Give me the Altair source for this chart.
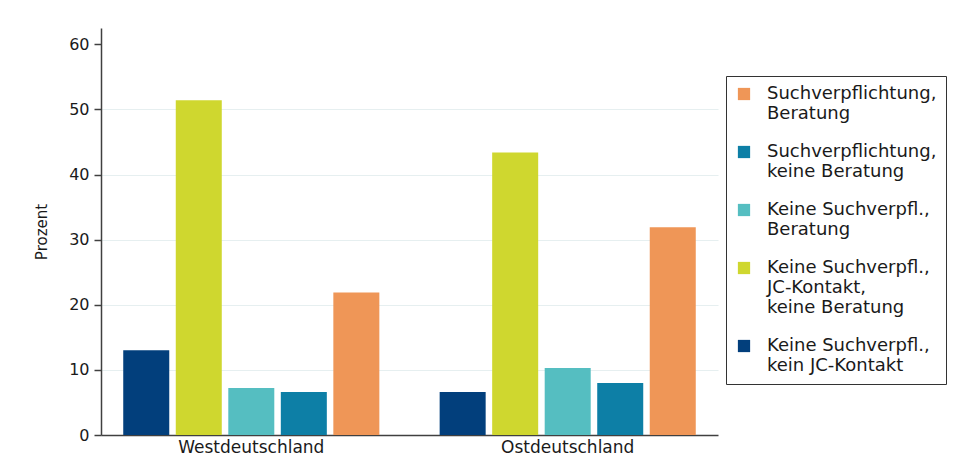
import altair as alt
import pandas as pd

regions = ["Westdeutschland", "Ostdeutschland"]
categories = [
    "Keine Suchverpfl.,\nkein JC-Kontakt",
    "Keine Suchverpfl.,\nJC-Kontakt,\nkeine Beratung",
    "Keine Suchverpfl.,\nBeratung",
    "Suchverpflichtung,\nkeine Beratung",
    "Suchverpflichtung,\nBeratung",
]
colors = ["#023f7c", "#cfd72f", "#55bec1", "#0d7fa6", "#ef9657"]
west_values = [13.0, 51.4, 7.2, 6.6, 21.9]
east_values = [6.6, 43.4, 10.3, 8.0, 31.9]
y_ticks = [0, 10, 20, 30, 40, 50, 60]

rows = []
for cat, w, e in zip(categories, west_values, east_values):
    rows.append({"Region": regions[0], "Kategorie": cat, "Prozent": w})
    rows.append({"Region": regions[1], "Kategorie": cat, "Prozent": e})
df = pd.DataFrame(rows)

legend_order = list(reversed(categories))
legend_colors = list(reversed(colors))

FONT = "DejaVu Sans"
AXIS_COLOR = "#404040"

chart = alt.Chart(df).mark_bar().encode(
    x=alt.X(
        "Region:N",
        sort=regions,
        title=None,
        scale=alt.Scale(paddingInner=0.17, paddingOuter=0.06),
        axis=alt.Axis(
            labelAngle=0,
            ticks=False,
            labelFontSize=17,
            labelFont=FONT,
            labelColor="#1a1a1a",
            labelPadding=4,
            domainColor=AXIS_COLOR,
            domainWidth=1.5,
            grid=False,
        ),
    ),
    xOffset=alt.XOffset(
        "Kategorie:N",
        sort=categories,
        scale=alt.Scale(paddingInner=0.124, paddingOuter=0.062),
    ),
    y=alt.Y(
        "Prozent:Q",
        title="Prozent",
        scale=alt.Scale(domain=[0, 62.5], nice=False, zero=True),
        axis=alt.Axis(
            values=y_ticks,
            labelFontSize=16,
            labelFont=FONT,
            labelColor="#1a1a1a",
            labelPadding=5,
            tickSize=7,
            tickWidth=1.5,
            tickColor=AXIS_COLOR,
            domainColor=AXIS_COLOR,
            domainWidth=1.5,
            titleFont=FONT,
            titleFontSize=15,
            titleFontWeight="normal",
            titleColor="#1a1a1a",
            titlePadding=19,
            grid=True,
            gridColor={
                "condition": {"test": "datum.value >= 60 || datum.value <= 0", "value": "transparent"},
                "value": "#e6eff0",
            },
            gridWidth=1.2,
        ),
    ),
    color=alt.Color(
        "Kategorie:N",
        scale=alt.Scale(domain=legend_order, range=legend_colors),
        sort=legend_order,
        legend=alt.Legend(
            title=None,
            orient="none",
            legendX=625,
            legendY=48,
            padding=9,
            symbolType="square",
            symbolSize=150,
            symbolStrokeWidth=0,
            labelFont=FONT,
            labelFontSize=18,
            labelColor="#1a1a1a",
            labelOffset=14,
            labelLimit=400,
            rowPadding=20,
            strokeColor="#333333",
            fillColor="white",
            labelExpr="split(datum.label, '\\n')",
        ),
    ),
).properties(
    width=617,
    height=407,
    background="white",
    autosize=alt.AutoSizeParams(type="none"),
    padding={"left": 93, "top": 20, "right": 240, "bottom": 25},
).configure_view(strokeWidth=0, stroke=None)

chart.save("out.html", embed_options={"renderer": "svg", "actions": False})
